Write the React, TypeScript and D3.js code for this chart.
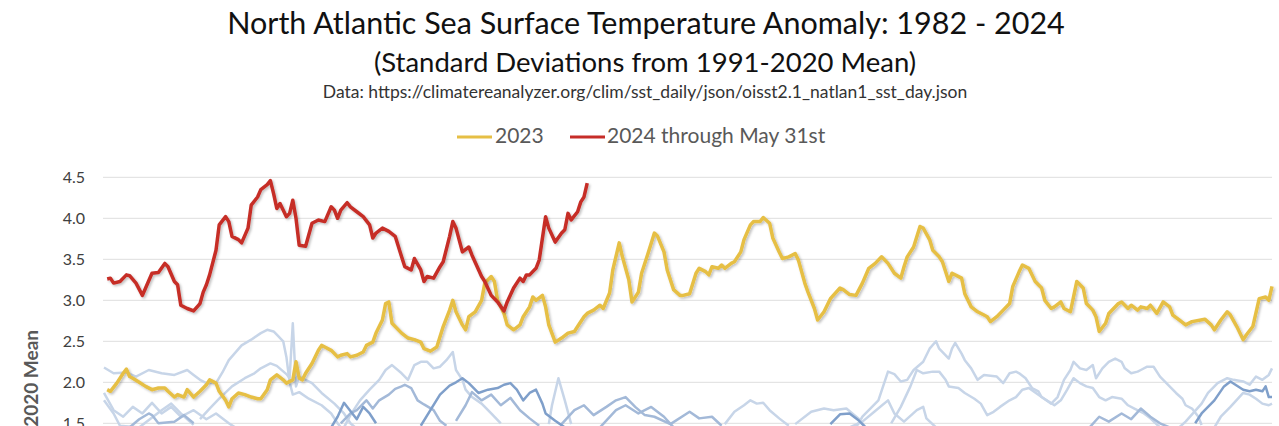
import React, { useEffect, useRef } from "react";
import * as d3 from "d3";

type Pt = [number, number]; // [day of year, std. deviations]

const yTicks = [0, 0.5, 1, 1.5, 2, 2.5, 3, 3.5, 4, 4.5];

// 2023 (yellow)
const sst2023: Pt[] = [
  [2, 1.91], [3, 1.89], [5, 1.99], [7, 2.11], [8, 2.16], [9, 2.07], [10, 2.05], [12, 2.0], [14, 1.95], [16, 1.91],
  [18, 1.93], [20, 1.93], [21, 1.89], [23, 1.82], [24, 1.85], [26, 1.82], [27, 1.91], [29, 1.82], [31, 1.89], [33, 1.97],
  [34, 2.03], [36, 1.99], [37, 1.89], [39, 1.78], [40, 1.7], [41, 1.8], [43, 1.87], [45, 1.85], [47, 1.82], [49, 1.8],
  [50, 1.8], [52, 1.91], [53, 2.03], [55, 2.09], [57, 2.03], [58, 1.99], [60, 2.03], [61, 2.25], [62, 2.05], [63, 2.03],
  [64, 2.11], [66, 2.23], [68, 2.39], [69, 2.45], [70, 2.43], [72, 2.39], [74, 2.31], [75, 2.33], [77, 2.35], [78, 2.31],
  [80, 2.33], [82, 2.37], [83, 2.45], [85, 2.49], [86, 2.6], [88, 2.76], [89, 2.96], [90, 2.98], [91, 2.72], [94, 2.6],
  [96, 2.54], [98, 2.52], [100, 2.49], [101, 2.41], [103, 2.38], [105, 2.43], [107, 2.68], [109, 2.88], [110, 3.0], [111, 2.86],
  [113, 2.7], [114, 2.64], [115, 2.8], [117, 2.86], [119, 3.0], [120, 3.21], [122, 3.29], [123, 3.23], [124, 3.0], [126, 2.84],
  [127, 2.7], [129, 2.64], [131, 2.7], [132, 2.8], [134, 2.92], [135, 3.04], [136, 3.0], [138, 3.06], [139, 2.92], [140, 2.7],
  [142, 2.49], [144, 2.54], [146, 2.6], [148, 2.62], [149, 2.68], [151, 2.8], [152, 2.84], [154, 2.88], [156, 2.94], [157, 2.9],
  [159, 3.09], [160, 3.37], [162, 3.7], [163, 3.53], [165, 3.25], [166, 2.98], [168, 3.1], [169, 3.33], [171, 3.57], [173, 3.82],
  [174, 3.78], [176, 3.59], [177, 3.37], [179, 3.13], [181, 3.06], [182, 3.06], [184, 3.08], [186, 3.33], [187, 3.39], [189, 3.35],
  [190, 3.31], [191, 3.41], [193, 3.39], [194, 3.43], [195, 3.39], [197, 3.45], [198, 3.47], [200, 3.59], [201, 3.74], [203, 3.92],
  [204, 3.96], [206, 3.96], [207, 4.01], [209, 3.94], [210, 3.76], [212, 3.59], [213, 3.51], [215, 3.53], [217, 3.57], [218, 3.49],
  [220, 3.21], [221, 3.1], [223, 2.9], [224, 2.76], [226, 2.86], [228, 3.02], [231, 3.15], [232, 3.13], [234, 3.07], [236, 3.06],
  [238, 3.21], [240, 3.39], [242, 3.45], [244, 3.53], [246, 3.45], [248, 3.33], [250, 3.27], [251, 3.41], [252, 3.53], [254, 3.65],
  [256, 3.9], [257, 3.88], [259, 3.74], [260, 3.61], [262, 3.53], [263, 3.47], [265, 3.23], [266, 3.33], [269, 3.27], [270, 3.08],
  [272, 2.92], [274, 2.86], [276, 2.82], [277, 2.8], [278, 2.74], [280, 2.8], [282, 2.88], [284, 2.96], [285, 3.17], [287, 3.35],
  [288, 3.43], [290, 3.39], [292, 3.23], [294, 3.15], [295, 3.0], [297, 2.9], [298, 2.92], [300, 2.98], [301, 2.9], [303, 2.86],
  [305, 3.23], [307, 3.15], [308, 2.96], [310, 2.88], [311, 2.8], [312, 2.62], [314, 2.72], [315, 2.84], [318, 2.96], [319, 2.98],
  [321, 2.9], [322, 2.94], [324, 2.88], [325, 2.92], [327, 2.9], [328, 2.94], [330, 2.84], [332, 2.98], [334, 2.92], [335, 2.82],
  [337, 2.76], [339, 2.7], [341, 2.74], [345, 2.77], [347, 2.7], [348, 2.64], [350, 2.76], [352, 2.86], [353, 2.82], [355, 2.68],
  [357, 2.52], [358, 2.58], [360, 2.68], [362, 3.02], [364, 3.04], [365, 3.0], [366, 3.17],
];

// 2024 through May 31st (red)
const sst2024: Pt[] = [
  [2, 3.26], [3, 3.27], [4, 3.21], [6, 3.23], [8, 3.31], [9, 3.3], [11, 3.21], [13, 3.06], [14, 3.15], [16, 3.33],
  [18, 3.34], [20, 3.45], [21, 3.41], [23, 3.23], [24, 3.19], [25, 2.94], [27, 2.9], [29, 2.87], [31, 2.96], [32, 3.1],
  [33, 3.19], [34, 3.31], [36, 3.61], [37, 3.92], [39, 4.02], [40, 3.96], [41, 3.78], [43, 3.74], [44, 3.7], [46, 3.88],
  [47, 4.16], [49, 4.26], [50, 4.35], [52, 4.41], [53, 4.46], [54, 4.3], [55, 4.12], [56, 4.18], [58, 4.02], [59, 4.06],
  [60, 4.22], [61, 4.0], [62, 3.67], [64, 3.66], [65, 3.8], [66, 3.94], [68, 3.98], [70, 3.96], [72, 4.14], [73, 4.1],
  [74, 4.0], [75, 4.1], [77, 4.19], [78, 4.14], [80, 4.08], [82, 4.02], [84, 3.92], [85, 3.76], [86, 3.82], [88, 3.88],
  [90, 3.84], [92, 3.78], [94, 3.53], [95, 3.41], [97, 3.37], [98, 3.51], [100, 3.37], [101, 3.23], [102, 3.29], [104, 3.27],
  [106, 3.41], [107, 3.47], [109, 3.78], [110, 3.96], [111, 3.88], [113, 3.59], [115, 3.65], [116, 3.55], [119, 3.29], [120, 3.23],
  [122, 3.06], [124, 2.98], [126, 2.87], [127, 2.98], [129, 3.15], [131, 3.27], [132, 3.23], [133, 3.31], [134, 3.31], [136, 3.39],
  [137, 3.49], [139, 4.02], [140, 3.88], [142, 3.71], [144, 3.82], [145, 3.86], [146, 4.06], [147, 3.98], [149, 4.08], [150, 4.2],
  [151, 4.26], [152, 4.43],
];

// earlier years (only the tops show above 1.5)
const palePathA: Pt[] = [
  [1, 2.18], [4, 2.11], [8, 2.12], [11, 2.07], [15, 2.15], [19, 2.11], [23, 2.09], [27, 2.15], [29, 2.09], [31, 2.03],
  [33, 1.99], [36, 1.99], [38, 2.12], [40, 2.27], [44, 2.45], [47, 2.52], [50, 2.6], [52, 2.64], [54, 2.62], [55, 2.58],
  [57, 2.5], [58, 2.31], [59, 2.0], [60, 1.85], [62, 1.88], [65, 1.8], [69, 1.72], [72, 1.62], [74, 1.5], [76, 1.4],
];
const palePathB: Pt[] = [
  [31, 1.55], [34, 1.68], [37, 1.8], [41, 1.95], [45, 2.05], [48, 2.11], [50, 2.17], [53, 2.23], [55, 2.2], [58, 2.1],
  [59, 2.05], [60, 2.72], [61, 1.95], [62, 2.07], [66, 1.99], [69, 1.87], [73, 1.74], [76, 1.62], [78, 1.5], [81, 1.4],
];
const palePathC: Pt[] = [
  [1, 1.87], [4, 1.66], [7, 1.58], [10, 1.7], [13, 1.62], [16, 1.75], [19, 1.62], [22, 1.7], [25, 1.58], [29, 1.66],
  [33, 1.55], [36, 1.62], [40, 1.5], [44, 1.4],
];
const palePathD: Pt[] = [
  [1, 1.78], [4, 1.62], [6, 1.47], [12, 1.45], [19, 1.66], [22, 1.74], [25, 1.62], [29, 1.48],
];
const palePathE: Pt[] = [
  [76, 1.45], [78, 1.6], [81, 1.78], [84, 1.91], [87, 2.03], [89, 2.15], [91, 2.21], [94, 2.11], [96, 2.03], [98, 2.21],
  [100, 2.25], [102, 2.25], [104, 2.17], [106, 2.19], [108, 2.27], [110, 2.37], [111, 2.15], [113, 2.03], [114, 1.91], [116, 1.82],
  [119, 1.74], [122, 1.62], [125, 1.5],
];
const palePathF: Pt[] = [[140, 1.49], [141, 1.72], [143, 2.05], [145, 1.78], [147, 1.49]];
const palePathG: Pt[] = [
  [195, 1.49], [198, 1.64], [201, 1.72], [203, 1.78], [205, 1.74], [207, 1.75], [209, 1.66], [212, 1.56], [215, 1.47],
];
const palePathH: Pt[] = [
  [217, 1.49], [222, 1.64], [226, 1.68], [229, 1.66], [233, 1.68], [237, 1.55], [239, 1.45],
];
const palePathI: Pt[] = [
  [236, 1.45], [238, 1.58], [243, 1.78], [246, 2.13], [248, 2.1], [250, 2.01], [252, 2.03], [254, 2.15], [257, 2.25], [259, 2.41],
  [261, 2.5], [262, 2.41], [265, 2.29], [266, 2.41], [267, 2.48], [269, 2.35], [270, 2.27], [272, 2.17], [274, 2.03], [276, 2.09],
  [278, 2.08], [280, 2.07], [282, 1.99], [284, 2.11], [286, 2.13], [287, 2.11], [289, 2.05], [291, 1.93], [293, 1.89], [294, 1.82],
  [297, 1.74], [299, 1.82], [301, 2.03], [303, 2.15], [304, 2.25], [306, 2.17], [308, 2.15], [310, 2.21], [311, 2.05], [313, 2.17],
  [315, 2.25], [317, 2.29], [319, 2.25], [320, 2.17], [322, 2.11], [324, 2.13], [325, 2.15], [327, 2.19], [329, 2.19], [331, 2.07],
  [333, 1.99], [336, 1.87], [338, 1.8], [339, 1.72], [341, 1.68], [343, 1.58], [344, 1.48],
];
const palePathJ: Pt[] = [
  [247, 1.5], [250, 1.7], [253, 1.95], [255, 2.15], [257, 2.11], [260, 2.13], [262, 2.13], [264, 2.03], [265, 1.95], [268, 1.93],
  [270, 1.87], [273, 1.8], [275, 1.74], [277, 1.6], [279, 1.64], [281, 1.7], [284, 1.78], [286, 1.82], [288, 1.91], [290, 1.93],
  [294, 1.82], [298, 1.72], [300, 1.78], [302, 1.91], [304, 2.05], [306, 1.99], [308, 1.95], [310, 1.93], [312, 1.82], [314, 1.78],
  [316, 1.82], [319, 1.8], [321, 1.72], [323, 1.68], [326, 1.62], [328, 1.56], [331, 1.45],
];
const palePathK: Pt[] = [
  [234, 1.45], [238, 1.52], [242, 1.65], [246, 1.78], [248, 1.62], [251, 1.52], [255, 1.66], [257, 1.7], [258, 1.56], [261, 1.45],
];
const palePathL: Pt[] = [
  [337, 1.45], [339, 1.52], [344, 1.74], [346, 1.87], [349, 1.99], [352, 2.05], [354, 2.03], [357, 2.01], [359, 1.97], [361, 2.07],
  [363, 2.03], [365, 2.09], [366, 2.17],
];
const palePathM: Pt[] = [
  [348, 1.45], [350, 1.58], [353, 1.7], [357, 1.87], [359, 1.85], [361, 1.8], [363, 1.74], [365, 1.72], [366, 1.74],
];
const midPathA: Pt[] = [
  [75, 1.5], [78, 1.62], [80, 1.66], [82, 1.74], [83, 1.78], [85, 1.68], [87, 1.78], [90, 1.85], [92, 1.92], [94, 1.95],
  [95, 1.97], [97, 1.93], [99, 1.78], [101, 1.73], [104, 1.66], [106, 1.53], [108, 1.47],
];
const midPathB: Pt[] = [
  [100, 1.47], [103, 1.66], [106, 1.85], [109, 1.96], [111, 2.0], [113, 2.05], [115, 1.99], [118, 1.87], [121, 1.91], [124, 1.93],
  [126, 1.97], [128, 1.99], [130, 1.91], [132, 1.78], [134, 1.87], [136, 1.91], [138, 1.74], [139, 1.62], [142, 1.53], [145, 1.45],
];
const midPathC: Pt[] = [
  [111, 1.53], [114, 1.72], [116, 1.88], [119, 1.78], [122, 1.85], [125, 1.72], [128, 1.81], [131, 1.66], [134, 1.56], [137, 1.47],
];
const midPathD: Pt[] = [
  [144, 1.49], [148, 1.66], [151, 1.72], [154, 1.6], [158, 1.7], [161, 1.78], [164, 1.82], [167, 1.7], [170, 1.6], [173, 1.58],
  [178, 1.49], [184, 1.64], [187, 1.56], [191, 1.58], [194, 1.47],
];
const midPathE: Pt[] = [[156, 1.45], [161, 1.66], [164, 1.72], [168, 1.62], [172, 1.7], [176, 1.58], [179, 1.45]];
const midPathF: Pt[] = [
  [342, 1.5], [344, 1.62], [348, 1.78], [351, 1.95], [353, 2.01], [357, 1.91], [359, 1.89], [361, 1.91], [363, 1.89], [364, 1.95],
  [365, 1.82], [366, 1.82],
];
const midPathG: Pt[] = [
  [309, 1.45], [312, 1.58], [315, 1.52], [319, 1.62], [322, 1.55], [325, 1.68], [328, 1.58], [331, 1.5], [334, 1.45],
];
const midPathH: Pt[] = [[9, 1.45], [12, 1.55], [15, 1.62], [16, 1.6], [18, 1.5], [23, 1.52], [26, 1.6], [29, 1.5]];
const darkPathA: Pt[] = [[72, 1.45], [74, 1.58], [76, 1.75], [78, 1.65], [80, 1.55], [82, 1.7], [84, 1.62], [86, 1.5]];
const darkPathB: Pt[] = [[228, 1.49], [231, 1.61], [234, 1.62], [237, 1.53], [239, 1.45]];

const paleLines = [palePathA, palePathB, palePathC, palePathD, palePathE, palePathF, palePathG, palePathH, palePathI, palePathJ, palePathK, palePathL, palePathM];
const midLines = [midPathA, midPathC, midPathD, midPathE, midPathG, midPathH];
const darkLines = [midPathB, midPathF, darkPathA, darkPathB];

const App = () => {
  const svgRef = useRef<SVGSVGElement>(null);

  useEffect(() => {
    const width = 1279;
    const height = 426;
    const font = "Lato, 'Noto Sans', sans-serif";

    const svg = d3.select(svgRef.current).attr("width", width).attr("height", height);
    svg.selectAll("*").remove();

    const x = d3.scaleLinear().domain([1, 366]).range([104, 1272]);
    const y = d3.scaleLinear().domain([0, 4.5]).range([546.3, 177.3]);

    const defs = svg.append("defs");
    const shadow = defs.append("filter").attr("id", "shadow").attr("x", "-5%").attr("y", "-5%").attr("width", "110%").attr("height", "120%");
    shadow.append("feDropShadow").attr("dx", 1.5).attr("dy", 1.5).attr("stdDeviation", 1.2).attr("flood-color", "#000").attr("flood-opacity", 0.25);

    // Titles
    svg.append("text").attr("x", 646).attr("y", 34).attr("text-anchor", "middle")
      .attr("font-family", font).attr("font-size", 30.5).attr("fill", "#111")
      .text("North Atlantic Sea Surface Temperature Anomaly: 1982 - 2024");
    svg.append("text").attr("x", 645).attr("y", 72).attr("text-anchor", "middle")
      .attr("font-family", font).attr("font-size", 27.5).attr("fill", "#111")
      .text("(Standard Deviations from 1991-2020 Mean)");
    svg.append("text").attr("x", 645).attr("y", 98).attr("text-anchor", "middle")
      .attr("font-family", font).attr("font-size", 17.5).attr("fill", "#333")
      .text("Data: https://climatereanalyzer.org/clim/sst_daily/json/oisst2.1_natlan1_sst_day.json");

    // Legend
    const legend = [
      { label: "2023", color: "#e6bf45", x0: 457, x1: 492, tx: 495 },
      { label: "2024 through May 31st", color: "#c62d28", x0: 570, x1: 605, tx: 607 },
    ];
    const lg = svg.append("g");
    legend.forEach((d) => {
      lg.append("line").attr("x1", d.x0).attr("x2", d.x1).attr("y1", 137).attr("y2", 137)
        .attr("stroke", d.color).attr("stroke-width", 3);
      lg.append("text").attr("x", d.tx).attr("y", 143).attr("font-family", font).attr("font-size", 21)
        .attr("fill", "#595959").text(d.label);
    });

    // Gridlines
    svg.append("g").selectAll("line").data(yTicks).join("line")
      .attr("x1", 103).attr("x2", 1272)
      .attr("y1", (d) => y(d)).attr("y2", (d) => y(d))
      .attr("stroke", "#dedede").attr("stroke-width", 1);

    // Y axis labels
    const yAxis = d3.axisLeft(y).tickValues(yTicks).tickSize(0).tickPadding(18).tickFormat(d3.format(".1f"));
    const ya = svg.append("g").attr("transform", "translate(103,0)").call(yAxis);
    ya.select(".domain").remove();
    ya.selectAll("text").attr("font-family", font).attr("font-size", 16).attr("fill", "#404040");

    svg.append("text")
      .attr("transform", "translate(38,330) rotate(-90)")
      .attr("text-anchor", "end")
      .attr("font-family", font).attr("font-size", 19).attr("font-weight", "bold").attr("fill", "#595959")
      .text("Standard Deviations from 1991-2020 Mean");

    const line = d3.line<Pt>().x((d) => x(d[0])).y((d) => y(d[1]));

    const bg = svg.append("g").attr("fill", "none").attr("stroke-linejoin", "round");
    bg.selectAll(".pale").data(paleLines).join("path").attr("class", "pale")
      .attr("d", line).attr("stroke", "#c7d5e8").attr("stroke-width", 2.5);
    bg.selectAll(".mid").data(midLines).join("path").attr("class", "mid")
      .attr("d", line).attr("stroke", "#a3b9d8").attr("stroke-width", 2.5);
    bg.selectAll(".dark").data(darkLines).join("path").attr("class", "dark")
      .attr("d", line).attr("stroke", "#7f9fca").attr("stroke-width", 2.5);

    svg.append("path").datum(sst2023).attr("fill", "none").attr("stroke", "#e6bf45")
      .attr("stroke-width", 3.5).attr("stroke-linejoin", "round").attr("filter", "url(#shadow)").attr("d", line);
    svg.append("path").datum(sst2024).attr("fill", "none").attr("stroke", "#c62d28")
      .attr("stroke-width", 3.5).attr("stroke-linejoin", "round").attr("filter", "url(#shadow)").attr("d", line);
  }, []);

  return (
    <svg ref={svgRef} style={{ position: "absolute", left: 0, top: 0, display: "block", background: "#fff" }}></svg>
  );
};

export default App;
